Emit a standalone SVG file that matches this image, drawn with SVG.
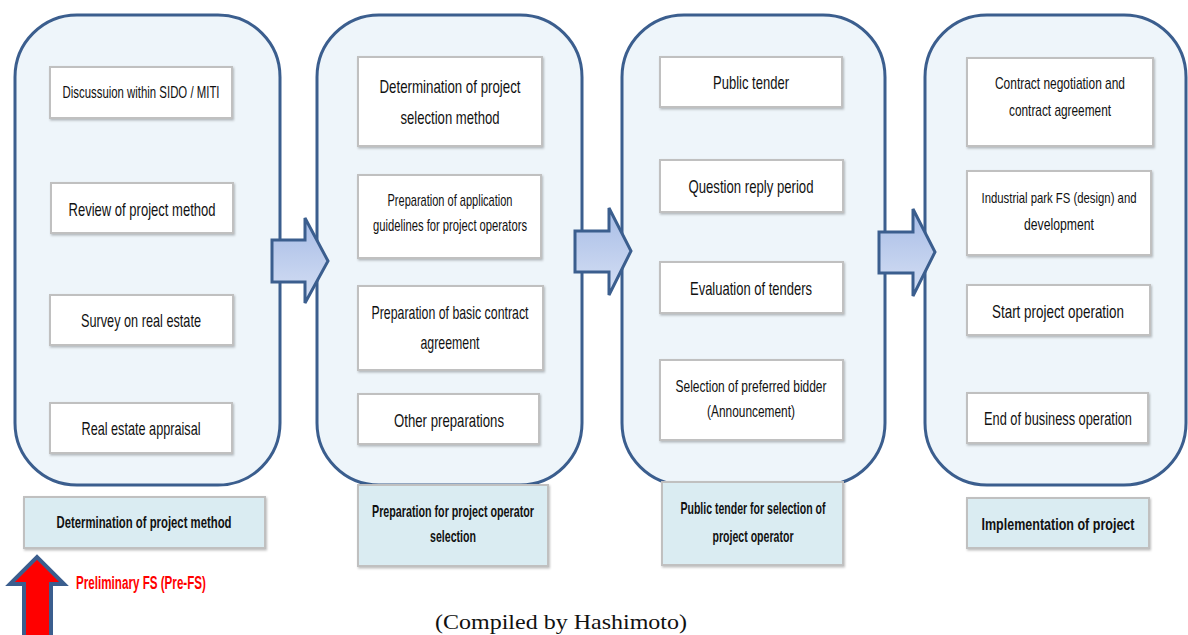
<svg xmlns="http://www.w3.org/2000/svg" width="1188" height="635" viewBox="0 0 1188 635">
  <defs>
    <linearGradient id="arrowFill" x1="0" y1="0" x2="0" y2="1">
      <stop offset="0" stop-color="#A7BCE6"/>
      <stop offset="1" stop-color="#D6E0F4"/>
    </linearGradient>
    <filter id="shadow" x="-5%" y="-5%" width="112%" height="120%">
      <feDropShadow dx="1" dy="1.5" stdDeviation="0.8" flood-color="#000" flood-opacity="0.25"/>
    </filter>
    <style>
      .stage { fill: #EEF5FA; stroke: #3B5E8E; stroke-width: 3; }
      .step { fill: #FFFFFF; stroke: #C0C0C0; stroke-width: 2; filter: url(#shadow); }
      .label { fill: #DAECF2; stroke: #C0C0C0; stroke-width: 2; filter: url(#shadow); }
      .flow { fill: url(#arrowFill); stroke: #3B5E8E; stroke-width: 3; stroke-linejoin: miter; }
      .t { font-family: "Liberation Sans", Arial, sans-serif; font-size: 19px; fill: #111; text-anchor: middle; }
      .s { font-size: 17px; }
      .xs { font-size: 14.5px; }
      .m { font-size: 17.5px; }
      .b { font-weight: bold; font-size: 17px; }
      .red { fill: #FF0000; font-weight: bold; font-size: 18px; text-anchor: start; }
      .cap { font-family: "Liberation Serif", "Times New Roman", serif; font-size: 21px; fill: #111; text-anchor: middle; }
    </style>
  </defs>

  <!-- Stage 1: determination of project method -->
  <g id="stage1">
    <rect class="stage" x="15" y="15" width="265" height="470" rx="62" ry="62"/>
    <rect class="step" x="50" y="67" width="182" height="51"/>
    <text class="t s" x="141" y="98" textLength="157" lengthAdjust="spacingAndGlyphs">Discussuion within SIDO / MITI</text>
    <rect class="step" x="51" y="183" width="182" height="50"/>
    <text class="t" x="142" y="216" textLength="147" lengthAdjust="spacingAndGlyphs">Review of project method</text>
    <rect class="step" x="50" y="295" width="183" height="50"/>
    <text class="t" x="141" y="327" textLength="120" lengthAdjust="spacingAndGlyphs">Survey on real estate</text>
    <rect class="step" x="50" y="403" width="182" height="50"/>
    <text class="t" x="141" y="435" textLength="119" lengthAdjust="spacingAndGlyphs">Real estate appraisal</text>
  </g>
  <g id="label1">
    <rect class="label" x="24" y="497" width="241" height="51"/>
    <text class="t b" x="144" y="528" textLength="175" lengthAdjust="spacingAndGlyphs">Determination of project method</text>
  </g>

  <!-- Stage 2: preparation for project operator selection -->
  <g id="stage2">
    <rect class="stage" x="317" y="15" width="265" height="470" rx="62" ry="62"/>
    <rect class="step" x="358" y="57" width="184" height="89"/>
    <text class="t" x="450" y="93" textLength="141" lengthAdjust="spacingAndGlyphs">Determination of project</text>
    <text class="t" x="450" y="124" textLength="99" lengthAdjust="spacingAndGlyphs">selection method</text>
    <rect class="step" x="358" y="175" width="183" height="83"/>
    <text class="t s" x="450" y="206" textLength="125" lengthAdjust="spacingAndGlyphs">Preparation of application</text>
    <text class="t s" x="450" y="231" textLength="154" lengthAdjust="spacingAndGlyphs">guidelines for project operators</text>
    <rect class="step" x="358" y="286" width="185" height="84"/>
    <text class="t" x="450" y="319" textLength="157" lengthAdjust="spacingAndGlyphs">Preparation of basic contract</text>
    <text class="t" x="450" y="349" textLength="59" lengthAdjust="spacingAndGlyphs">agreement</text>
    <rect class="step" x="358" y="394" width="181" height="50"/>
    <text class="t" x="449" y="427" textLength="110" lengthAdjust="spacingAndGlyphs">Other preparations</text>
  </g>
  <g id="label2">
    <rect class="label" x="358" y="485" width="190" height="81"/>
    <text class="t b" x="453" y="517" textLength="162" lengthAdjust="spacingAndGlyphs">Preparation for project operator</text>
    <text class="t b" x="453" y="542" textLength="46" lengthAdjust="spacingAndGlyphs">selection</text>
  </g>

  <!-- Stage 3: public tender -->
  <g id="stage3">
    <rect class="stage" x="622" y="15" width="263" height="470" rx="62" ry="62"/>
    <rect class="step" x="660" y="57" width="182" height="50"/>
    <text class="t" x="751" y="89" textLength="76" lengthAdjust="spacingAndGlyphs">Public tender</text>
    <rect class="step" x="660" y="160" width="183" height="52"/>
    <text class="t" x="751" y="193" textLength="125" lengthAdjust="spacingAndGlyphs">Question reply period</text>
    <rect class="step" x="660" y="262" width="183" height="51"/>
    <text class="t" x="751" y="295" textLength="122" lengthAdjust="spacingAndGlyphs">Evaluation of tenders</text>
    <rect class="step" x="660" y="360" width="183" height="80"/>
    <text class="t s" x="751" y="392" textLength="151" lengthAdjust="spacingAndGlyphs">Selection of preferred bidder</text>
    <text class="t s" x="751" y="417" textLength="88" lengthAdjust="spacingAndGlyphs">(Announcement)</text>
  </g>
  <g id="label3">
    <rect class="label" x="662" y="482" width="181" height="83"/>
    <text class="t b" x="753" y="514" textLength="145" lengthAdjust="spacingAndGlyphs">Public tender for selection of</text>
    <text class="t b" x="753" y="542" textLength="81" lengthAdjust="spacingAndGlyphs">project operator</text>
  </g>

  <!-- Stage 4: implementation -->
  <g id="stage4">
    <rect class="stage" x="925" y="15" width="261" height="470" rx="62" ry="62"/>
    <rect class="step" x="967" y="58" width="186" height="88"/>
    <text class="t s" x="1060" y="89" textLength="130" lengthAdjust="spacingAndGlyphs">Contract negotiation and</text>
    <text class="t s" x="1060" y="116" textLength="102" lengthAdjust="spacingAndGlyphs">contract agreement</text>
    <rect class="step" x="967" y="171" width="184" height="84"/>
    <text class="t xs" x="1059" y="203" textLength="155" lengthAdjust="spacingAndGlyphs">Industrial park FS (design) and</text>
    <text class="t s" x="1059" y="230" textLength="70" lengthAdjust="spacingAndGlyphs">development</text>
    <rect class="step" x="967" y="285" width="183" height="50"/>
    <text class="t" x="1058" y="318" textLength="132" lengthAdjust="spacingAndGlyphs">Start project operation</text>
    <rect class="step" x="967" y="393" width="181" height="50"/>
    <text class="t m" x="1058" y="425" textLength="148" lengthAdjust="spacingAndGlyphs">End of business operation</text>
  </g>
  <g id="label4">
    <rect class="label" x="967" y="498" width="182" height="50"/>
    <text class="t b" x="1058" y="530" textLength="153" lengthAdjust="spacingAndGlyphs">Implementation of project</text>
  </g>

  <!-- Block arrows between stages -->
  <g id="connectors">
    <path class="flow" d="M272,240 H305 V218 L328,261 L305,303 V282 H272 Z"/>
    <path class="flow" d="M575,231 H609 V208 L631,251 L609,295 V272 H575 Z"/>
    <path class="flow" d="M879,232 H913 V209 L935,252 L913,296 V273 H879 Z"/>
  </g>

  <!-- Pre-FS marker -->
  <g id="prefs">
    <path d="M24,640 V584 H10 L37,557 L64,584 H51 V640 Z" fill="#FF0000" stroke="#3B5E8E" stroke-width="4" stroke-linejoin="miter"/>
    <text class="t red" x="76" y="589" textLength="130" lengthAdjust="spacingAndGlyphs">Preliminary FS (Pre-FS)</text>
  </g>

  <text class="cap" x="561" y="629" textLength="252" lengthAdjust="spacingAndGlyphs">(Compiled by Hashimoto)</text>
</svg>
